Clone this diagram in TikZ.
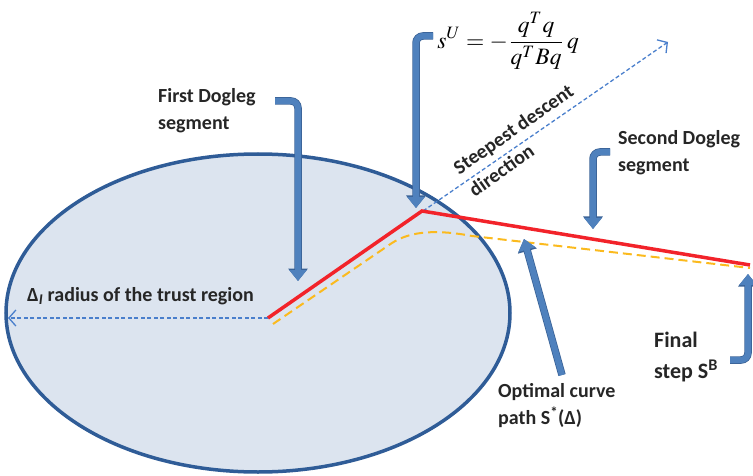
\documentclass[tikz,border=0pt]{standalone}
\usepackage{mathptmx}
\usepackage{fontspec}
\setmainfont{Carlito}
\usetikzlibrary{arrows.meta}
\definecolor{ellfill}{HTML}{DCE4EF}
\definecolor{elldraw}{HTML}{2F5C97}
\definecolor{arrfill}{HTML}{4F81BD}
\definecolor{arrdark}{HTML}{3A6296}
\definecolor{dashblue}{HTML}{4A7FCC}
\definecolor{redline}{HTML}{F2232A}
\definecolor{goldline}{HTML}{FBBA1E}
\tikzset{
  lbl/.style={font=\bfseries\fontsize{20}{27}\selectfont, align=left, inner sep=0pt, text=black!85},
  bigarrow/.style={draw=arrfill, line width=6pt, rounded corners=7pt,
    -{Triangle[width=17pt,length=11pt]},
    preaction={draw=arrdark, line width=7.5pt, rounded corners=7pt, -{Triangle[width=19pt,length=12.5pt]}}},
  thindash/.style={draw=dashblue, line width=1.3pt, dash pattern=on 4pt off 2.5pt,
    -{Straight Barb[length=7pt,width=16pt,line width=1.3pt]}},
}
\begin{document}
\begin{tikzpicture}[x=1pt,y=-1pt]
\useasboundingbox (0,0) rectangle (753,476);
% trust region
\draw[fill=ellfill, draw=elldraw, line width=3.5pt] (258,313) ellipse [x radius=252, y radius=159];
% points
\coordinate (O) at (268,318);
\coordinate (K) at (422,211);
\coordinate (E) at (750,265);
\coordinate (R) at (8,318);
\coordinate (SD) at (668,42);
% radius arrow
\draw[thindash] (O) -- (R);
% steepest descent direction
\draw[thindash] (O) -- (SD);
% optimal curve path
\draw[goldline, line width=2pt, dash pattern=on 9pt off 5pt]
  (273,324) -- (392,243) .. controls (412,230) and (440,230) .. (472,236) -- (750,268);
% dogleg path
\draw[redline, line width=3.5pt] (O) -- (K) -- (E);
% labels
\node[lbl, anchor=west] (rad) at (27,296) {Δ\textsubscript{\textit{I}} radius of the trust region};
\node[lbl, anchor=west] (fd) at (158,111) {First Dogleg\\segment};
\node[lbl, anchor=west] (sd) at (618,153) {Second Dogleg\\segment};
\node[lbl, anchor=west] (oc) at (498,406) {Optimal curve\\path S\textsuperscript{*}(Δ)};
\node[lbl, anchor=west, font=\bfseries\fontsize{22}{31}\selectfont] (fs) at (654,357) {Final\\step S\textsuperscript{B}};
\node[lbl, rotate=35, anchor=center] (st) at (521,140) {Steepest descent\\direction};
\node[inner sep=0pt, scale=2.35] (su) at (508,41) {$\displaystyle s^{U}=-\frac{q^{T}q}{q^{T}Bq}\,q$};
% callout arrows
\coordinate (a1s) at (275,101);
\coordinate (a1e) at (298,281);
\draw[bigarrow] (a1s) -- (298,101) -- (a1e);
\coordinate (a2s) at (433,36);
\coordinate (a2e) at (416,208);
\draw[bigarrow] (a2s) -- (416,36) -- (a2e);
\coordinate (a3s) at (610,152);
\coordinate (a3e) at (593,229);
\draw[bigarrow] (a3s) -- (593,152) -- (a3e);
\coordinate (a4s) at (562,375);
\coordinate (a4e) at (524,239);
\draw[bigarrow] (a4s) -- (a4e);
\coordinate (a5s) at (730,360);
\coordinate (a5e) at (748,274);
\draw[bigarrow] (a5s) -- (748,360) -- (a5e);
\end{tikzpicture}
\end{document}
